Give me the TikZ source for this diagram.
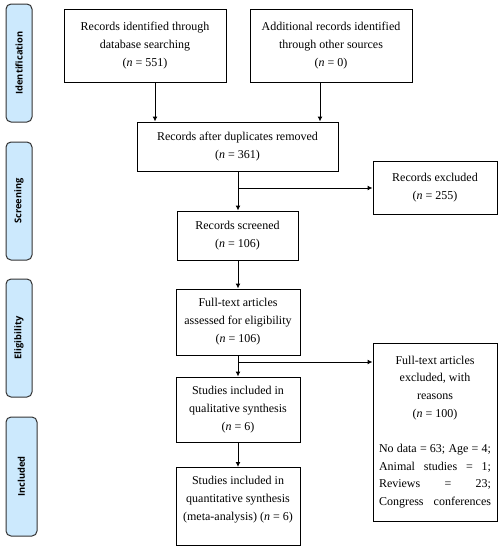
\documentclass[tikz,border=0pt]{standalone}
\usepackage{fontspec}
\setmainfont{Liberation Serif}
\newfontfamily\sidefont{Open Sans}
\usetikzlibrary{arrows.meta}
\definecolor{sidefill}{HTML}{CCE9FD}
\definecolor{sideline}{HTML}{333333}
\tikzset{
  box/.style={draw=black, line width=1pt, align=center, font=\fontsize{12}{18}\selectfont, inner sep=2pt},
  side/.style={draw=sideline, fill=sidefill, line width=1pt, rounded corners=5pt, rotate=90, font=\sidefont\bfseries\fontsize{9.3}{10}\selectfont, inner sep=0pt},
  arr/.style={line width=1pt, -{Latex[length=5pt,width=5pt]}}
}
\newcommand{\nn}{\textit{n}}
\begin{document}
\begin{tikzpicture}[x=1pt,y=-1pt]
\useasboundingbox (0,0) rectangle (502,550);
% side labels
\node[side, minimum width=118pt, minimum height=26pt] (sid) at (19,63) {Identification};
\node[side, minimum width=118pt, minimum height=26pt] (sscr) at (19,201) {Screening};
\node[side, minimum width=118pt, minimum height=26pt] (selig) at (19,338) {Eligibility};
\node[side, minimum width=119pt, minimum height=31pt] (sincl) at (21.5,476.5) {Included};
% boxes
\node[box, minimum width=162pt, minimum height=73pt] (b1) at (145,45.5) {Records identified through\\database searching\\(\nn{} = 551)};
\node[box, minimum width=162pt, minimum height=73pt] (b2) at (331,45.5) {Additional records identified\\through other sources\\(\nn{} = 0)};
\node[box, minimum width=201pt, minimum height=49pt] (b3) at (237.5,146.5) {Records after duplicates removed\\(\nn{} = 361)};
\node[box, minimum width=124pt, minimum height=53pt] (ex1) at (435,187.5) {Records excluded\\(\nn{} = 255)};
\node[box, minimum width=121pt, minimum height=49pt] (scr) at (237.5,235.5) {Records screened\\(\nn{} = 106)};
\node[box, minimum width=124pt, minimum height=66pt] (ft) at (238,322) {Full-text articles\\assessed for eligibility\\(\nn{} = 106)};
\node[box, minimum width=124pt, minimum height=178pt, font=\fontsize{12}{17.7}\selectfont] (ex2) at (435,432) {Full-text articles\\excluded, with\\reasons\\(\nn{} = 100)\\[17.7pt]
\makebox[112pt][s]{No data = 63; Age = 4;}\\
\makebox[112pt][s]{Animal studies = 1;}\\
\makebox[112pt][s]{Reviews = 23;}\\
\makebox[112pt][s]{Congress conferences}};
\node[box, minimum width=124pt, minimum height=65pt] (ql) at (238,409.5) {Studies included in\\qualitative synthesis\\(\nn{} = 6)};
\node[box, minimum width=124pt, minimum height=78pt, anchor=north, text depth=16pt] (qt) at (238,467) {Studies included in\\quantitative synthesis\\(meta-analysis) (\nn{} = 6)};
% connectors
\coordinate (xa) at (155,0);
\coordinate (xb) at (320,0);
\coordinate (xc) at (238,0);
\coordinate (ya) at (0,188);
\coordinate (yb) at (0,362);
\draw[arr] (xa |- b1.south) -- (xa |- b3.north);
\draw[arr] (xb |- b2.south) -- (xb |- b3.north);
\draw[arr] (xc |- b3.south) -- (xc |- scr.north);
\draw[arr] (xc |- ya) -- (ex1.west |- ya);
\draw[arr] (xc |- scr.south) -- (xc |- ft.north);
\draw[arr] (xc |- ft.south) -- (xc |- ql.north);
\draw[arr] (xc |- yb) -- (ex2.west |- yb);
\draw[arr] (xc |- ql.south) -- (xc |- qt.north);
\end{tikzpicture}
\end{document}
